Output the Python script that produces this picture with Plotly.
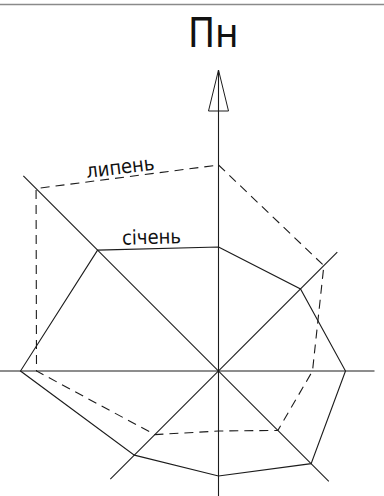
import numpy as np
import plotly.graph_objects as go

# wind rose: directions clockwise from north
directions = ['Пн', 'ПнСх', 'Сх', 'ПдСх', 'Пд', 'ПдЗх', 'Зх', 'ПнЗх']
angles = [0, 45, 90, 135, 180, 225, 270, 315]
january = [124, 116, 127, 131, 105, 119, 198, 171]   # січень
july = [206, 149, 94, 84, 60, 90, 182, 258]          # липень
axis_len = [301, 168, 156, 156, 125, 153, 219, 276]  # length of each direction ray

W, H = 384, 496
CX, CY = 218.5, 371  # centre of the rose in pixels

LINE = '#1c1c1c'


def to_xy(values):
    a = np.radians(angles)
    r = np.array(values, dtype=float)
    return r * np.sin(a), r * np.cos(a)


fig = go.Figure()

# direction rays (pairs of opposite directions)
ax_x, ax_y = to_xy(axis_len)
for i in range(4):
    fig.add_trace(go.Scatter(x=[ax_x[i], ax_x[i + 4]], y=[ax_y[i], ax_y[i + 4]],
                             mode='lines', line=dict(color=LINE, width=1.1),
                             hoverinfo='skip', showlegend=False))

# north arrow (open triangle at the tip of the north ray)
tip = axis_len[0]
fig.add_trace(go.Scatter(x=[-10, 0, 10, -10], y=[tip - 41, tip, tip - 41, tip - 41],
                         mode='lines', line=dict(color=LINE, width=1),
                         hoverinfo='skip', showlegend=False))

# July (dashed) and January (solid)
jx, jy = to_xy(july)
fig.add_trace(go.Scatter(x=list(jx) + [jx[0]], y=list(jy) + [jy[0]], mode='lines',
                         line=dict(color=LINE, width=1.1, dash='9px,6px'),
                         name='липень', hoverinfo='skip', showlegend=False))
sx, sy = to_xy(january)
fig.add_trace(go.Scatter(x=list(sx) + [sx[0]], y=list(sy) + [sy[0]], mode='lines',
                         line=dict(color=LINE, width=1.1),
                         name='січень', hoverinfo='skip', showlegend=False))

font = 'Liberation Sans Narrow, Arial Narrow, DejaVu Sans Condensed, sans-serif'
fig.add_annotation(x=-5.5, y=CY - 33, text='Пн', showarrow=False,
                   font=dict(family=font, size=40, color='#111'))
fig.add_annotation(x=-98.5, y=CY - 167, text='липень', showarrow=False, textangle=-7,
                   font=dict(family=font, size=20, color='#111'))
fig.add_annotation(x=-67.5, y=CY - 237, text='січень', showarrow=False, textangle=-1.5,
                   font=dict(family=font, size=20, color='#111'))

# thin grey rule along the top
fig.add_shape(type='line', xref='paper', yref='paper', x0=0, x1=1,
              y0=1 - 4.5 / H, y1=1 - 4.5 / H, line=dict(color='#8a8a8a', width=1.5))

fig.update_xaxes(range=[-CX, W - CX], visible=False, fixedrange=True)
fig.update_yaxes(range=[CY - H, CY], visible=False, fixedrange=True)
fig.update_layout(width=W, height=H, margin=dict(l=0, r=0, t=0, b=0),
                  paper_bgcolor='white', plot_bgcolor='white')

# the page's default body margin would push the drawing 8px off
fig.write_html('out.html', config={'displayModeBar': False},
               post_script="document.body.style.margin='0';")
